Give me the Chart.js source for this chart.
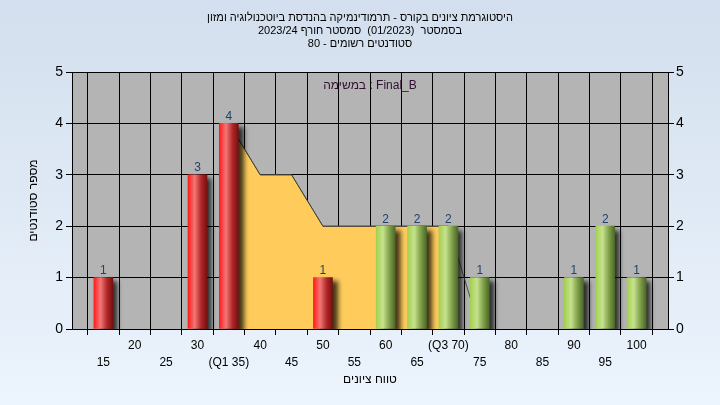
<!DOCTYPE html>
<html>
<head>
<meta charset="utf-8">
<script src="https://cdn.jsdelivr.net/npm/chart.js@4.4.1/dist/chart.umd.min.js"></script>
<style>
  html, body { margin: 0; padding: 0; background: #e0eaf6; }
</style>
</head>
<body>
<canvas id="myChartHistograma" width="720" height="405"></canvas>
<script>
const TITLE_LINES = [
    'היסטוגרמת ציונים בקורס - תרמודינמיקה בהנדסת ביוטכנולוגיה ומזון',
    'בסמסטר  (01/2023)  סמסטר חורף 2023/24',
    'סטודנטים רשומים - 80'
]
const TASK_LABEL = 'במשימה : Final_B'
const X_TITLE = 'טווח ציונים'
const Y_TITLE = 'מספר סטודנטים'

const grades = [15, 20, 25, 30, 35, 40, 45, 50, 55, 60, 65, 70, 75, 80, 85, 90, 95, 100]
const counts = [1, 0, 0, 3, 4, 0, 0, 1, 0, 2, 2, 2, 1, 0, 0, 1, 2, 1]

// yellow band between the quartiles
const curveGrades = [35, 40, 45, 50, 55, 60, 65, 70, 75]
const curveValues = [4, 3, 3, 2, 2, 2, 2, 2, 0]
const Q1 = 35
const Q3 = 70
const PASS_GRADE = 55

const yTicks = [0, 1, 2, 3, 4, 5]

const FONT = "'Liberation Sans', Arial, sans-serif"

const tickLabel = (v) => {
    if (v < grades[0] || v > grades[grades.length - 1]) return ''
    let txt = String(v)
    if (v === Q1) txt = '(Q1 ' + v + ')'
    if (v === Q3) txt = '(Q3 ' + v + ')'
    // odd multiples of 5 go on the second row
    return (v / 5) % 2 === 1 ? ['', txt] : txt
}

const barGradient = (chart, grade) => {
    const area = chart.chartArea
    if (!area) return '#f02020'
    const x = chart.scales.x.getPixelForValue(grade)
    const g = chart.ctx.createLinearGradient(x - 9.5, 0, x + 9.5, 0)
    if (grade < PASS_GRADE) {
        g.addColorStop(0, '#ff1c1c')
        g.addColorStop(0.35, '#f27676')
        g.addColorStop(0.7, '#b02626')
        g.addColorStop(1, '#741010')
    } else {
        g.addColorStop(0, '#a4d050')
        g.addColorStop(0.35, '#c6e28e')
        g.addColorStop(0.7, '#7e9e48')
        g.addColorStop(1, '#4c6828')
    }
    return g
}

const bgPlugin = {
    id: 'fondo',
    beforeDraw(chart) {
        const { ctx, width, height, chartArea } = chart
        ctx.save()
        const g = ctx.createLinearGradient(0, 0, 0, height)
        g.addColorStop(0, '#d3dfee')
        g.addColorStop(1, '#ecf4fd')
        ctx.fillStyle = g
        ctx.fillRect(0, 0, width, height)
        ctx.fillStyle = '#b4b4b4'
        ctx.fillRect(chartArea.left, chartArea.top, chartArea.right - chartArea.left, chartArea.bottom - chartArea.top)
        ctx.restore()
    }
}

const shadowPlugin = {
    id: 'sombra',
    beforeDatasetDraw(chart, args) {
        if (args.meta.type !== 'bar') return
        const ctx = chart.ctx
        ctx.save()
        ctx.shadowColor = 'rgba(0,0,0,0.75)'
        ctx.shadowOffsetX = 5
        ctx.shadowOffsetY = 4
        ctx.shadowBlur = 5
    },
    afterDatasetDraw(chart, args) {
        if (args.meta.type !== 'bar') return
        chart.ctx.restore()
    }
}

const labelsPlugin = {
    id: 'etiquetas',
    afterDatasetsDraw(chart) {
        const ctx = chart.ctx
        ctx.save()
        ctx.font = '12px ' + FONT
        ctx.textAlign = 'center'
        ctx.textBaseline = 'bottom'
        ctx.fillStyle = '#24406a'
        chart.data.datasets.forEach((ds, i) => {
            if (ds.type !== 'bar') return
            chart.getDatasetMeta(i).data.forEach((bar, j) => {
                const v = ds.data[j].y
                if (!v) return
                ctx.fillText(String(v), bar.x, bar.y - 1)
            })
        })
        ctx.fillStyle = '#301030'
        const ca = chart.chartArea
        ctx.textBaseline = 'middle'
        ctx.fillText(TASK_LABEL, (ca.left + ca.right) / 2, ca.top + 14)
        ctx.restore()
    }
}

var ctx = document.getElementById('myChartHistograma')
var myChart = new Chart(ctx, {
    type: 'bar',
    data: {
        datasets: [{
            type: 'bar',
            data: grades.map((g, i) => ({ x: g, y: counts[i] || null })),
            backgroundColor: (c) => barGradient(c.chart, grades[c.dataIndex]),
            barThickness: 19,
            borderWidth: 0,
            order: 0
        }, {
            type: 'line',
            data: curveGrades.filter(g => g <= Q3).map((g, i) => ({ x: g, y: curveValues[i] })),
            backgroundColor: '#ffcc5c',
            borderColor: 'rgba(70,70,70,0.8)',
            borderWidth: 1,
            pointRadius: 0,
            fill: 'origin',
            tension: 0,
            order: 2
        }, {
            type: 'line',
            data: curveGrades.map((g, i) => ({ x: g, y: curveValues[i] })),
            borderColor: 'rgba(60,60,60,0.85)',
            borderWidth: 1,
            pointRadius: 0,
            fill: false,
            tension: 0,
            order: 1
        }]
    },
    options: {
        responsive: false,
        devicePixelRatio: 1,
        animation: false,
        layout: { padding: 0 },
        plugins: {
            legend: { display: false },
            tooltip: { enabled: false },
            title: {
                display: true,
                text: TITLE_LINES,
                color: '#000',
                font: { family: FONT, size: 11, weight: 'normal', lineHeight: '13px' },
                padding: { top: 11, bottom: 22 }
            }
        },
        scales: {
            x: {
                type: 'linear',
                min: 10,
                max: 105,
                offset: false,
                afterFit: (s) => { s.height = 76 },
                border: { color: '#000', width: 1 },
                grid: { color: '#000', lineWidth: 1, tickLength: 6, tickColor: '#000' },
                ticks: {
                    stepSize: 5,
                    autoSkip: false,
                    maxRotation: 0,
                    color: '#000',
                    padding: 2,
                    font: { family: FONT, size: 12, lineHeight: 1.4 },
                    callback: (v) => tickLabel(v)
                },
                title: {
                    display: true,
                    text: X_TITLE,
                    color: '#000',
                    font: { family: FONT, size: 12 },
                    padding: { top: 0, bottom: 18 }
                }
            },
            y: {
                min: 0,
                max: 5,
                afterFit: (s) => { s.width = 72 },
                border: { color: '#000', width: 1 },
                grid: { color: '#000', lineWidth: 1, tickLength: 6, tickColor: '#000' },
                ticks: {
                    stepSize: 1,
                    color: '#000',
                    padding: 3,
                    font: { family: FONT, size: 14 },
                    callback: (v) => yTicks.includes(v) ? String(v) : null
                },
                title: {
                    display: true,
                    text: Y_TITLE,
                    color: '#000',
                    font: { family: FONT, size: 12 },
                    padding: { top: 26, bottom: 0 }
                }
            },
            y2: {
                position: 'right',
                min: 0,
                max: 5,
                afterFit: (s) => { s.width = 52 },
                border: { color: '#000', width: 1 },
                grid: { drawOnChartArea: false, tickLength: 6, tickColor: '#000' },
                ticks: {
                    stepSize: 1,
                    color: '#000',
                    padding: 2,
                    font: { family: FONT, size: 14 },
                    callback: (v) => yTicks.includes(v) ? String(v) : null
                }
            }
        }
    },
    plugins: [bgPlugin, shadowPlugin, labelsPlugin]
})
</script>
</body>
</html>
